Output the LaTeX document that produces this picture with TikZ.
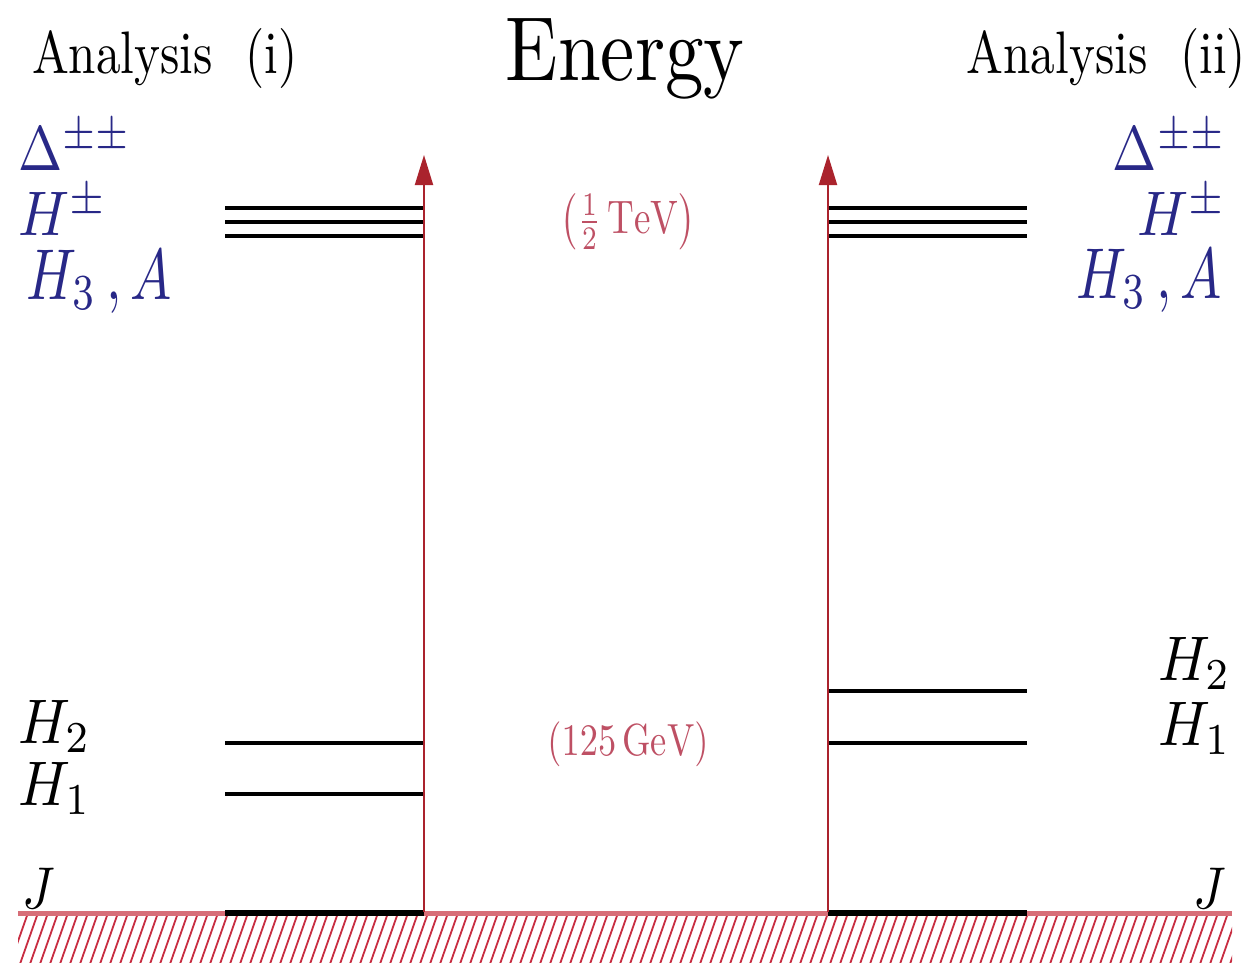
\documentclass[tikz,border=0pt]{standalone}
\usepackage{fontspec}
\usepackage{graphicx}
\usetikzlibrary{arrows.meta}
\definecolor{arrred}{RGB}{170,35,45}
\definecolor{lblred}{RGB}{190,80,100}
\definecolor{lblblue}{RGB}{40,40,135}
\definecolor{hatchred}{RGB}{200,45,65}
\definecolor{groundline}{RGB}{215,110,120}
% scale 10pt design text: #1 horizontal, #2 vertical
\newcommand\stx[3]{\scalebox{#1}[#2]{#3}}
\tikzset{
  lbl/.style={inner sep=0pt, outer sep=0pt},
  level/.style={line width=4.5pt, black},
  axisarrow/.style={draw=arrred, line width=2pt, -{Triangle[length=30pt,width=18pt]}},
  hatchline/.style={draw=hatchred, line width=1.8pt},
}
\begin{document}
\begin{tikzpicture}[x=1pt,y=-1pt]
\useasboundingbox (0,0) rectangle (1253,964);
% titles
\node[lbl, anchor=base] (title) at (625,80) {\stx{7.7}{9.1}{Energy}};
\node[lbl, anchor=base west] (ai) at (32,73) {\stx{4.92}{6.0}{Analysis\ \ (i)}};
\node[lbl, anchor=base east] (aii) at (1246,73) {\stx{4.92}{6.0}{Analysis\ \ (ii)}};
% ground hatch
\begin{scope}
  \clip (18,912) rectangle (1232,962);
  \foreach \x in {-30,-20,...,1240} {
    \draw[hatchline] (\x,964) -- (\x+19,910);
  }
\end{scope}
\draw[groundline, line width=5pt] (18,913) -- (1232,913);
% ground levels J
\draw[line width=6pt, black] (225,913) -- (424,913);
\draw[line width=6pt, black] (828,913) -- (1027,913);
% heavy levels
\foreach \y in {208,222,236} {
  \draw[level] (225,\y) -- (424,\y);
  \draw[level] (828,\y) -- (1027,\y);
}
% light levels
\draw[line width=4pt] (225,743) -- (424,743);
\draw[line width=4pt] (225,794) -- (424,794);
\draw[line width=4pt] (828,691) -- (1027,691);
\draw[line width=4pt] (828,743) -- (1027,743);
% energy axes
\coordinate (lbot) at (424,912);
\coordinate (ltop) at (424,155);
\coordinate (rbot) at (828,912);
\coordinate (rtop) at (828,155);
\draw[axisarrow] (lbot) -- (ltop);
\draw[axisarrow] (rbot) -- (rtop);
% scale labels
\node[lbl, lblred] (tev) at (628,222) {\stx{3.7}{4.7}{$\left(\frac{1}{2}\,\mathrm{TeV}\right)$}};
\node[lbl, lblred] (gev) at (628,744) {\stx{3.64}{4.5}{$(125\,\mathrm{GeV})$}};
% left labels
\node[lbl, anchor=base west, lblblue] (dl) at (18,170) {\stx{5.3}{6.3}{$\Delta^{\pm\pm}$}};
\node[lbl, anchor=base west, lblblue] (hpl) at (18,235) {\stx{5.6}{6.3}{$H^{\pm}$}};
\node[lbl, anchor=base west, lblblue] (h3l) at (27,299) {\stx{5.5}{7.2}{$H_3\,,A$}};
\node[lbl, anchor=base west] (h2l) at (18,743) {\stx{5.7}{6.3}{$H_2$}};
\node[lbl, anchor=base west] (h1l) at (18,805) {\stx{5.7}{6.3}{$H_1$}};
\node[lbl, anchor=base west] (jl) at (22,908) {\stx{5.0}{5.9}{$J$}};
% right labels
\node[lbl, anchor=base east, lblblue] (dr) at (1226,170) {\stx{5.3}{6.3}{$\Delta^{\pm\pm}$}};
\node[lbl, anchor=base east, lblblue] (hpr) at (1226,235) {\stx{5.6}{6.3}{$H^{\pm}$}};
\node[lbl, anchor=base east, lblblue] (h3r) at (1222,298) {\stx{5.5}{7.2}{$H_3\,,A$}};
\node[lbl, anchor=base east] (h2r) at (1231,680) {\stx{5.7}{6.3}{$H_2$}};
\node[lbl, anchor=base east] (h1r) at (1231,745) {\stx{5.7}{6.3}{$H_1$}};
\node[lbl, anchor=base east] (jr) at (1226,908) {\stx{5.0}{5.9}{$J$}};
\end{tikzpicture}
\end{document}
